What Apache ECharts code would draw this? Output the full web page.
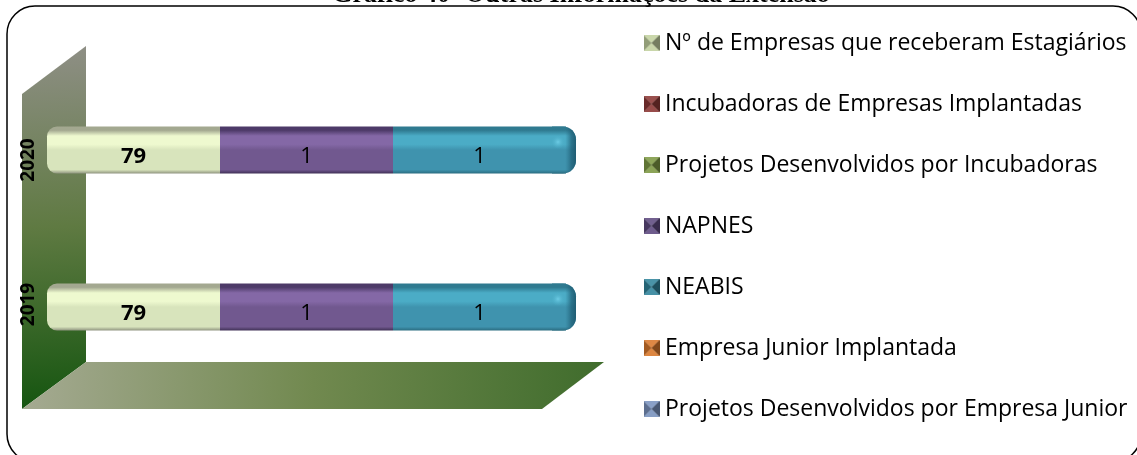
<!DOCTYPE html>
<html>
<head>
<meta charset="utf-8">
<style>
html, body { margin: 0; padding: 0; background: #fff; }
#main { width: 1137px; height: 455px; }
</style>
</head>
<body>
<div id="main"></div>
<script src="https://cdn.jsdelivr.net/npm/echarts@6/dist/echarts.min.js"></script>
<script>
const categories = ['2019', '2020'];
const seriesNames = [
    'Nº de Empresas que receberam Estagiários',
    'Incubadoras de Empresas Implantadas',
    'Projetos Desenvolvidos por Incubadoras',
    'NAPNES',
    'NEABIS',
    'Empresa Junior Implantada',
    'Projetos Desenvolvidos por Empresa Junior'
];
// printed labels, per series, 2019 then 2020
const estagiarios = [79, 79];
const incubadoras = [null, null];
const projetosIncub = [null, null];
const napnes = [1, 1];
const neabis = [1, 1];
const empresaJunior = [null, null];
const projetosJunior = [null, null];
// the picture draws each printed segment at the same length, whatever its label says
const drawnLength = 1;

const printed = [estagiarios, incubadoras, projetosIncub, napnes, neabis, empresaJunior, projetosJunior];
const swatch = ['#c3d1a0', '#8c3836', '#7f9a45', '#5f4a80', '#31859c', '#d9782c', '#7a93bf'];
const bands = {
    0: ['#a3a890', '#eef9cf', '#d8e4bc', '#8f947f'],
    3: ['#4d3a68', '#8468a6', '#71588f', '#3f3055'],
    4: ['#2f7a90', '#4bacc6', '#3f93ae', '#2a6c80']
};

const bandFill = (c) => new echarts.graphic.LinearGradient(0, 0, 0, 1, [
    { offset: 0, color: c[0] },
    { offset: 0.08, color: c[0] },
    { offset: 0.2, color: c[1] },
    { offset: 0.38, color: c[1] },
    { offset: 0.5, color: c[2] },
    { offset: 0.92, color: c[2] },
    { offset: 1, color: c[3] }
]);

const shade = (hex, k) => {
    const n = parseInt(hex.slice(1), 16);
    const ch = (v) => Math.max(0, Math.min(255, Math.round(k < 1 ? v * k : v + (255 - v) * (k - 1))));
    return `rgb(${ch(n >> 16)},${ch((n >> 8) & 255)},${ch(n & 255)})`;
};

// four sided bevel swatch for the legend
const bevelIcon = (hex) => {
    const s = 32;
    const cv = document.createElement('canvas');
    cv.width = s;
    cv.height = s;
    const ctx = cv.getContext('2d');
    const m = s / 2;
    const faces = [
        [[0, 0], [s, 0], 1.12],
        [[s, 0], [s, s], 0.6],
        [[s, s], [0, s], 1.1],
        [[0, s], [0, 0], 0.75]
    ];
    faces.forEach(([a, b, k]) => {
        ctx.fillStyle = shade(hex, k);
        ctx.beginPath();
        ctx.moveTo(a[0], a[1]);
        ctx.lineTo(b[0], b[1]);
        ctx.lineTo(m, m);
        ctx.closePath();
        ctx.fill();
    });
    return 'image://' + cv.toDataURL();
};

const series = seriesNames.map((name, i) => ({
    name,
    type: 'bar',
    stack: 'total',
    barWidth: 47,
    silent: true,
    itemStyle: {
        color: bands[i] ? bandFill(bands[i]) : swatch[i],
        borderRadius: i === 0 ? [10, 0, 0, 10] : 0
    },
    label: {
        show: true,
        position: 'inside',
        offset: [0, 7],
        color: '#000',
        fontFamily: 'Open Sans',
        fontSize: 22,
        fontWeight: i === 0 ? 'bold' : 'normal',
        formatter: (p) => printed[i][p.dataIndex]
    },
    data: printed[i].map((v) => (v === null ? null : drawnLength))
}));

// rounded end of the stack, sits after the last segment
series.push({
    type: 'custom',
    silent: true,
    z: 3,
    data: categories.map((c, i) => [printed.filter((p) => p[i] !== null).length * drawnLength, i]),
    encode: { x: 0, y: 1 },
    renderItem: (params, api) => {
        const end = api.coord([api.value(0), api.value(1)]);
        const h = 47;
        const x = end[0] - 14;
        const y = end[1] - h / 2;
        const shape = { x, y, width: 24, height: h, r: [0, 13, 13, 0] };
        return {
            type: 'group',
            children: [
                { type: 'rect', shape, style: { fill: bandFill(bands[4]) } },
                { type: 'rect', shape, style: { fill: new echarts.graphic.LinearGradient(0, 0, 1, 0, [
                    { offset: 0, color: 'rgba(40,110,135,0)' },
                    { offset: 0.55, color: 'rgba(40,110,135,0)' },
                    { offset: 0.8, color: 'rgba(32,95,118,0.7)' },
                    { offset: 1, color: 'rgba(30,90,112,0.95)' }
                ]) } },
                { type: 'circle', shape: { cx: end[0] - 8, cy: end[1] - 8, r: 7 },
                  style: { fill: new echarts.graphic.RadialGradient(0.5, 0.5, 0.5, [
                    { offset: 0, color: 'rgba(110,205,230,0.95)' },
                    { offset: 1, color: 'rgba(75,172,198,0)' }
                ]) } }
            ]
        };
    }
});

const chart = echarts.init(document.getElementById('main'));
chart.setOption({
    animation: false,
    backgroundColor: '#fff',
    title: {
        text: 'Gráfico 40- Outras Informações da Extensão',
        left: 576, top: -23, textAlign: 'center',
        textStyle: { fontFamily: 'Liberation Serif', fontSize: 26, fontWeight: 'bold', color: '#000' }
    },
    legend: {
        left: 643, top: 31, orient: 'vertical', padding: 0,
        itemWidth: 17, itemHeight: 16, itemGap: 37,
        selectedMode: false,
        data: seriesNames.map((name, i) => ({ name, icon: bevelIcon(swatch[i]) })),
        textStyle: { fontFamily: 'Open Sans', fontSize: 23, lineHeight: 24, color: '#000', padding: 0 }
    },
    grid: { left: 47, top: 71.5, width: 519, height: 314 },
    xAxis: { type: 'value', min: 0, max: 3, show: false },
    yAxis: {
        type: 'category',
        data: [
            { value: categories[0], textStyle: { padding: [0, 0, 0, 5] } },
            { value: categories[1], textStyle: { padding: [0, 20, 0, 0] } }
        ],
        axisLine: { show: false }, axisTick: { show: false },
        axisLabel: {
            rotate: 90, margin: 9, color: '#000',
            fontFamily: 'Open Sans', fontSize: 19, fontWeight: 'bold'
        }
    },
    graphic: [
        // frame
        { type: 'rect', z: -2, shape: { x: 7, y: 6, width: 1134, height: 456, r: 28 },
          style: { fill: '#fff', stroke: '#000', lineWidth: 1.5 } },
        // back wall
        { type: 'polygon', z: -1, shape: { points: [[22, 94], [86, 46], [86, 362], [22, 409]] },
          style: { fill: new echarts.graphic.LinearGradient(0.2, 0, 0.5, 1, [
              { offset: 0, color: '#8f8f86' }, { offset: 0.5, color: '#5f7a42' }, { offset: 1, color: '#155510' }
          ]) } },
        // floor
        { type: 'polygon', z: -1, shape: { points: [[22, 409], [86, 362], [604, 362], [542, 409]] },
          style: { fill: new echarts.graphic.LinearGradient(0, 0.3, 1, 0.7, [
              { offset: 0, color: '#a5aa92' }, { offset: 0.5, color: '#71894f' }, { offset: 1, color: '#3f6c2c' }
          ]) } }
    ],
    series
});
</script>
</body>
</html>
